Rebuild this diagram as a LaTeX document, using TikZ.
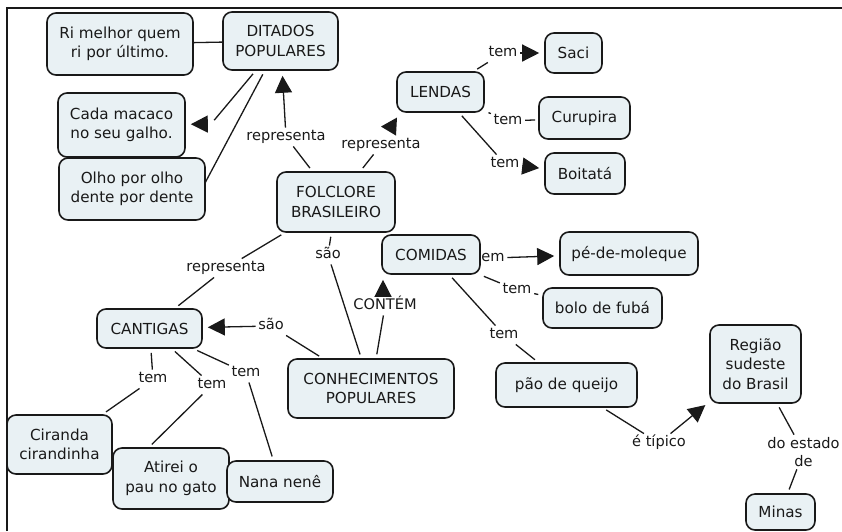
\documentclass[tikz,border=0pt]{standalone}
\usepackage{fontspec}
\setmainfont{DejaVu Sans}
\usetikzlibrary{arrows.meta,calc}
\definecolor{cfill}{RGB}{233,241,244}
\definecolor{ink}{RGB}{25,25,25}

\begin{document}
\begin{tikzpicture}[x=1pt,y=-1pt,
  concept/.style={draw=ink, line width=1.6pt, rounded corners=9pt, fill=cfill,
    align=center, inner sep=0pt, text=ink, font=\fontsize{15.2}{19.5}\selectfont},
  sz/.style n args={2}{minimum width=#1pt, minimum height=#2pt},
  lbl/.style={inner sep=2.5pt, text=ink, text height=10.5pt, text depth=3pt,
    font=\fontsize{14.6}{18}\selectfont},
  lbltwo/.style={inner sep=2.5pt, align=center, text=ink,
    font=\fontsize{14.6}{18}\selectfont},
  gapnode/.style={inner sep=0pt, minimum width=6pt, minimum height=12pt},
  link/.style={draw=ink, line width=1.3pt},
  fromc/.style={link, shorten <=4pt},
  toc/.style={link, shorten >=4pt},
  toca/.style={link, shorten >=5pt, -{Triangle[length=17pt,width=17pt]}},
  frame/.style={draw=ink, line width=1.8pt},
]
\useasboundingbox (0,0) rectangle (842,531);
\fill[white] (0,0) rectangle (842,531);

% outer frame (top and left edges)
\draw[frame] (7,531) -- (7,8) -- (842,8);

% concepts
\node[concept, sz={146}{62}] (ri)       at (120,44)    {Ri melhor quem\\ri por último.};
\node[concept, sz={115}{58}] (dit)      at (280.5,41)  {DITADOS\\POPULARES};
\node[concept, sz={127}{64}] (cada)     at (121.5,125) {Cada macaco\\no seu galho.};
\node[concept, sz={146}{62}] (olho)     at (132,189)   {Olho por olho\\dente por dente};
\node[concept, sz={87}{40}]  (lendas)   at (440.5,92)  {LENDAS};
\node[concept, sz={57}{40}]  (saci)     at (573.5,53)  {Saci};
\node[concept, sz={91}{42}]  (curupira) at (584.5,118) {Curupira};
\node[concept, sz={80}{41}]  (boitata)  at (585,173.5) {Boitatá};
\node[concept, sz={118}{60}] (fol)      at (336,202)   {FOLCLORE\\BRASILEIRO};
\node[concept, sz={98}{39}]  (comidas)  at (431,254.5) {COMIDAS};
\node[concept, sz={138}{43}] (pe)       at (629,253.5) {pé-de-moleque};
\node[concept, sz={119}{40}] (bolo)     at (602.5,308) {bolo de fubá};
\node[concept, sz={105}{39}] (cantigas) at (149.5,328.5) {CANTIGAS};
\node[concept, sz={166}{59}] (conhec)   at (371,388.5) {CONHECIMENTOS\\POPULARES};
\node[concept, sz={141}{44}] (pao)      at (566.5,385) {pão de queijo};
\node[concept, sz={91}{78}]  (regiao)   at (755.5,364) {Região\\sudeste\\do Brasil};
\node[concept, sz={105}{59}] (ciranda)  at (59.5,444.5) {Ciranda\\cirandinha};
\node[concept, sz={116}{61}] (atirei)   at (171,478.5) {Atirei o\\pau no gato};
\node[concept, sz={106}{41}] (nana)     at (280,481.5) {Nana nenê};
\node[concept, sz={69}{36}]  (minas)    at (780.5,512) {Minas};

% linking phrases
\node[lbl] (l1)  at (286,137) {representa};
\node[lbl] (l2)  at (381,145) {representa};
\node[gapnode] (l3) at (211,124) {};
\coordinate (l4) at (205,183);
\node[lbl] (l5)  at (503,53)  {tem};
\node[lbl] (l6)  at (508,121) {tem};
\node[lbl] (l7)  at (505,164) {tem};
\node[lbl] (l8)  at (226,268) {representa};
\node[lbl] (l9)  at (328,255) {são};
\node[lbl] (l10) at (385,306) {CONTÉM};
\node[lbl] (l11) at (271,326) {são};
\node[lbl] (l12) at (153,379) {tem};
\node[lbl] (l13) at (212,385) {tem};
\node[lbl] (l14) at (246,373) {tem};
\node[lbl] (l15) at (493,258) {em};
\node[lbl] (l16) at (517,290) {tem};
\node[lbl] (l17) at (504,335) {tem};
\node[lbl] (l18) at (659,443) {é típico};
\node[lbltwo] (l19) at (803.5,452) {do estado\\de};

% connectors
\draw[link] (ri) -- (dit);
\draw[fromc] (fol) -- (l1);  \draw[toca] (l1) -- (dit);
\draw[fromc] (fol) -- (l2);
\fill[ink] ($(l2.north)+(0,-9)$) -- ($(l2.north)+(16,-18)$) -- ($(l2.north)+(15,0)$) -- cycle;
\draw[fromc] (dit) -- (l3);  \draw[toca] (l3) -- (cada);
\draw[fromc] (dit) -- (l4);
\draw[fromc] (lendas) -- (l5); \draw[toca] (l5) -- (saci);
\draw[fromc] (lendas) -- (l6); \draw[link, shorten >=3pt] (l6) -- (curupira);
\draw[fromc] (lendas) -- (l7); \draw[toca] (l7) -- (boitata);
\draw[fromc] (fol) -- (l8); \draw[toc] (l8) -- (cantigas);
\draw[fromc] (fol) -- (l9); \draw[toc] (l9) -- (conhec);
\draw[fromc] (conhec) -- (l10);
\draw[toca] ([xshift=-2pt]l10.north) -- ([xshift=-2pt]l10.north |- comidas.south);
\draw[fromc] (conhec) -- (l11); \draw[toca] (l11) -- (cantigas);
\draw[fromc] (cantigas) -- (l12); \draw[toc] (l12) -- (ciranda);
\draw[fromc] (cantigas) -- (l13); \draw[toc] (l13) -- ([xshift=-22pt]atirei.north);
\draw[fromc] (cantigas) -- (l14); \draw[toc] (l14) -- (nana);
\draw[toca] (l15) -- (pe);
\draw[fromc] (comidas) -- (l16); \draw[toc] (l16) -- (bolo);
\draw[fromc] (comidas) -- (l17); \draw[toc] (l17) -- (pao);
\draw[fromc] (pao) -- (l18); \draw[toca] (l18) -- (regiao);
\draw[fromc] (regiao) -- (l19); \draw[toc] (l19) -- (minas);
\end{tikzpicture}
\end{document}
